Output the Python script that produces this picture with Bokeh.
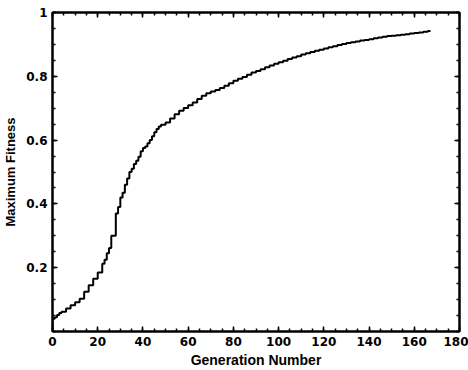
from bokeh.plotting import figure
from bokeh.models import FixedTicker, LinearAxis, Range1d, NumeralTickFormatter
from bokeh.embed import file_html
from bokeh.resources import INLINE

generation = [0, 0, 1, 2, 3, 4, 6, 8, 10, 12, 14, 16, 18, 20, 22, 23, 24, 25, 26, 28, 29, 30,
              31, 32, 33, 34, 35, 36, 37, 38, 39, 40, 41, 42, 43, 44, 45, 46, 47, 48, 50,
              52, 54, 56, 58, 60, 62, 64, 66, 68, 70, 72, 74, 76, 78, 80, 82, 84, 86, 88,
              90, 92, 94, 96, 98, 100, 102, 104, 106, 108, 110, 112, 114, 116, 118, 120,
              122, 124, 126, 128, 130, 132, 134, 136, 138, 140, 142, 144, 146, 148, 150,
              152, 154, 156, 158, 160, 162, 164, 166, 167]
max_fitness = [0.0, 0.04, 0.045, 0.052, 0.058, 0.062, 0.072, 0.082, 0.092, 0.103, 0.125, 0.145,
               0.165, 0.185, 0.212, 0.225, 0.245, 0.262, 0.30, 0.37, 0.39, 0.42, 0.435, 0.46,
               0.48, 0.50, 0.51, 0.525, 0.535, 0.548, 0.565, 0.575, 0.58, 0.59, 0.60, 0.612,
               0.625, 0.635, 0.643, 0.648, 0.655, 0.668, 0.681, 0.692, 0.701, 0.709, 0.718,
               0.729, 0.739, 0.747, 0.752, 0.757, 0.763, 0.770, 0.778, 0.786, 0.792, 0.798,
               0.805, 0.812, 0.817, 0.822, 0.828, 0.834, 0.839, 0.844, 0.849, 0.854, 0.859,
               0.863, 0.868, 0.872, 0.876, 0.880, 0.883, 0.887, 0.891, 0.894, 0.898, 0.901,
               0.904, 0.907, 0.909, 0.912, 0.914, 0.916, 0.919, 0.922, 0.924, 0.926, 0.927,
               0.929, 0.930, 0.932, 0.934, 0.936, 0.937, 0.940, 0.942, 0.943]

x_major = [0, 20, 40, 60, 80, 100, 120, 140, 160, 180]
x_minor = list(range(0, 181, 5))
y_major = [0.2, 0.4, 0.6, 0.8, 1.0]
y_minor = [i * 0.05 for i in range(21)]

TICK_FONT = "DejaVu Sans"
LABEL_FONT = "Liberation Sans"

p = figure(width=468, height=370, output_backend="svg", toolbar_location=None,
           x_range=Range1d(0, 180), y_range=Range1d(0, 1),
           min_border_left=50, min_border_right=9, min_border_top=12, min_border_bottom=38)
p.grid.visible = False
p.background_fill_color = "white"
p.border_fill_color = "white"
p.outline_line_color = "black"
p.outline_line_width = 2

p.step(generation, max_fitness, mode="after", line_color="black", line_width=2)

def style(ax, ticks, minors, show_labels):
    ax.ticker = FixedTicker(ticks=ticks, minor_ticks=minors)
    ax.axis_line_color = "black"
    ax.axis_line_width = 2
    ax.major_tick_in = 5
    ax.major_tick_out = 0
    ax.minor_tick_in = 3
    ax.minor_tick_out = 0
    ax.major_tick_line_width = 1.5
    ax.minor_tick_line_width = 1.5
    ax.major_tick_line_color = "black"
    ax.minor_tick_line_color = "black"
    if show_labels:
        ax.major_label_text_font = TICK_FONT
        ax.major_label_text_font_style = "bold"
        ax.major_label_text_font_size = "12px"
        ax.major_label_text_color = "black"
        ax.major_label_standoff = 5
        ax.axis_label_text_font = LABEL_FONT
        ax.axis_label_text_font_style = "bold"
        ax.axis_label_text_color = "black"
    else:
        ax.major_label_overrides = {t: "" for t in ticks}
        ax.major_label_text_font_size = "1px"
        ax.major_label_standoff = 0

xa = p.xaxis[0]
style(xa, x_major, x_minor, True)
xa.axis_label = "Generation Number"
xa.axis_label_text_font_size = "14px"
xa.axis_label_standoff = 3
ya = p.yaxis[0]
style(ya, y_major, y_minor, True)
ya.axis_label = "Maximum Fitness"
ya.axis_label_text_font_size = "13px"
ya.axis_label_standoff = 5
ya.formatter = NumeralTickFormatter(format="0.[0]")

top = LinearAxis()
style(top, x_major, x_minor, False)
p.add_layout(top, "above")
right = LinearAxis()
style(right, y_major, y_minor, False)
p.add_layout(right, "right")

open("out.html", "w").write(file_html(p, INLINE))
